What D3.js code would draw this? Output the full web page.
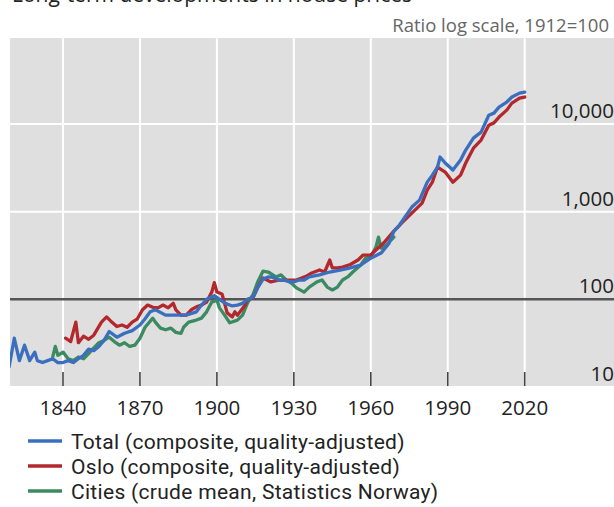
<!DOCTYPE html>
<html><head><meta charset="utf-8">
<script src="https://cdn.jsdelivr.net/npm/d3@7"></script>
<style>
body{margin:0;background:#fff;overflow:hidden}
svg{display:block;font-family:"Open Sans",sans-serif}
</style>
</head><body>
<svg id="chart" width="614" height="507"></svg>
<script>
const totalYears = [1819,1821,1823,1825,1827,1829,1830,1832,1834,1836,1838,1840,1842,1844,1846,1848,1850,1852,1854,1856,1858,1861,1864,1867,1870,1872,1874,1876,1880,1884,1888,1892,1894,1896,1899,1901,1903,1906,1908,1910,1912,1914,1916,1918,1920,1922,1924,1926,1928,1930,1932,1934,1936,1940,1944,1948,1952,1956,1960,1964,1967,1969,1971,1973,1976,1979,1982,1984,1986,1987,1989,1992,1995,1997,2000,2003,2006,2008,2010,2013,2015,2018,2020];
const totalValues = [17,36,20,30,20,25,20,19,20,21,19,19,20,19,21,23,27,26,29,34,43,37,41,44,51,60,72,76,66,66,66,72,86,100,110,100,91,84,86,90,100,105,138,170,180,178,166,166,160,158,166,166,180,190,205,215,228,245,295,337,430,600,690,840,1128,1355,2172,2612,3226,4198,3587,2981,3877,5036,6900,8080,12600,13300,15600,17800,20300,22500,23100];

const osloYears = [1841,1843,1845,1846,1848,1850,1852,1855,1857,1859,1861,1863,1865,1867,1869,1871,1873,1875,1877,1879,1881,1883,1884,1886,1888,1890,1892,1894,1896,1898,1899,1900,1902,1903,1904,1906,1907,1908,1911,1912,1914,1916,1918,1921,1924,1928,1931,1933,1935,1937,1940,1942,1944,1945,1947,1949,1952,1955,1957,1960,1962,1965,1967,1969,1972,1976,1980,1982,1984,1986,1989,1992,1995,1997,2000,2003,2006,2008,2010,2013,2015,2018,2020];
const osloValues = [36,33,55,32,38,35,39,55,63,55,49,51,48,55,60,76,86,81,80,86,80,90,76,66,66,76,82,86,93,121,155,121,115,90,70,63,72,66,86,100,103,138,175,158,166,166,166,175,185,200,216,205,281,228,228,233,250,281,320,320,365,439,513,600,740,964,1250,1763,2170,3230,2830,2170,2610,3590,5300,6550,9700,10300,12000,14400,17300,19700,20300];

const citiesYears = [1836,1837,1838,1840,1842,1844,1846,1848,1850,1852,1854,1856,1858,1860,1862,1864,1866,1868,1870,1872,1875,1876,1878,1880,1882,1884,1886,1887,1889,1892,1894,1896,1898,1900,1901,1903,1905,1908,1910,1912,1914,1916,1918,1920,1923,1925,1927,1929,1931,1934,1936,1939,1941,1943,1945,1947,1949,1951,1953,1956,1958,1960,1962,1963,1964,1966,1969];
const citiesValues = [22,29,23,25,21,20,22,21,24,28,32,34,37,33,30,32,29,30,36,48,61,55,47,45,47,42,41,48,55,58,61,72,93,98,80,66,54,58,66,92,112,160,210,205,180,190,166,153,135,121,138,158,166,138,128,138,166,180,205,245,296,304,394,513,384,416,513];

const xTickYears = [1840,1870,1900,1930,1960,1990,2020];
const yTickValues = [10,100,1000,10000];
const yTickLabels = ["10","100","1,000","10,000"];
const seriesNames = ["Total (composite, quality-adjusted)","Oslo (composite, quality-adjusted)","Cities (crude mean, Statistics Norway)"];
const titleText = "Long-term developments in house prices";
const unitText = "Ratio log scale, 1912=100";

const colors = {total:"#3a6fbf", oslo:"#b3282d", cities:"#3b8a62"};

const svg = d3.select("#chart");
const plot = {left:10, right:620, top:38, bottom:386};
const x = d3.scaleLinear().domain([1840,2020]).range([63,524.7]);
const y = d3.scaleLog().domain([10,10000]).range([387,124]);

// heading of the page, cut off at the top edge as in the reference
svg.append("text").attr("x",12).attr("y",1.5).attr("font-size",21).attr("fill","#222").text(titleText);

svg.append("text").attr("x",609).attr("y",32).attr("text-anchor","end")
  .attr("font-size",18.5).attr("fill","#666").text(unitText);

svg.append("rect").attr("x",plot.left).attr("y",plot.top)
  .attr("width",plot.right-plot.left).attr("height",plot.bottom-plot.top).attr("fill","#dfdfdf");

svg.append("clipPath").attr("id","clip").append("rect")
  .attr("x",plot.left).attr("y",plot.top).attr("width",plot.right-plot.left).attr("height",plot.bottom-plot.top);

// vertical gridlines
svg.append("g").selectAll("line").data(xTickYears).join("line")
  .attr("x1",d=>x(d)).attr("x2",d=>x(d)).attr("y1",plot.top).attr("y2",plot.bottom)
  .attr("stroke","#fff").attr("stroke-width",2);
// horizontal gridlines
svg.append("g").selectAll("line").data(yTickValues.filter(v=>v!==100 && y(v)>plot.top && y(v)<plot.bottom)).join("line")
  .attr("x1",plot.left).attr("x2",plot.right).attr("y1",d=>y(d)).attr("y2",d=>y(d))
  .attr("stroke","#fff").attr("stroke-width",2);
// tick marks
svg.append("g").selectAll("line").data(xTickYears).join("line")
  .attr("x1",d=>x(d)).attr("x2",d=>x(d)).attr("y1",plot.bottom-14).attr("y2",plot.bottom)
  .attr("stroke","#444").attr("stroke-width",1.6);
// base line at 100
svg.append("line").attr("x1",plot.left).attr("x2",plot.right).attr("y1",y(100)).attr("y2",y(100))
  .attr("stroke","#555").attr("stroke-width",2.5);

const line = d3.line().x(d=>x(d[0])).y(d=>y(d[1]));
const series = [
  {key:"cities", data:d3.zip(citiesYears,citiesValues)},
  {key:"oslo", data:d3.zip(osloYears,osloValues)},
  {key:"total", data:d3.zip(totalYears,totalValues)}
];
svg.append("g").attr("clip-path","url(#clip)").selectAll("path").data(series).join("path")
  .attr("d",d=>line(d.data)).attr("fill","none").attr("stroke",d=>colors[d.key])
  .attr("stroke-width",3.3).attr("stroke-linejoin","round").attr("stroke-linecap","round");

// right axis labels
svg.append("g").selectAll("text").data(yTickValues).join("text")
  .attr("x",614).attr("y",d=>y(d)-6).attr("text-anchor","end")
  .attr("font-size",20.5).attr("fill","#222").text((d,i)=>yTickLabels[i]);

// x labels
svg.append("g").selectAll("text").data(xTickYears).join("text")
  .attr("x",d=>x(d)).attr("y",415).attr("text-anchor","middle")
  .attr("font-size",20.5).attr("fill","#222").text(d=>d);

// legend
const legendKeys = ["total","oslo","cities"];
const lg = svg.append("g").selectAll("g").data(legendKeys).join("g")
  .attr("transform",(d,i)=>`translate(0,${441+i*25})`);
lg.append("line").attr("x1",28).attr("x2",62).attr("y1",0).attr("y2",0)
  .attr("stroke",d=>colors[d]).attr("stroke-width",3.3);
lg.append("text").attr("x",71).attr("y",7.5).attr("font-size",21)
  .attr("font-family","Roboto, sans-serif").attr("letter-spacing",0.3).attr("fill","#222")
  .text((d,i)=>seriesNames[i]);
</script>
</body></html>
